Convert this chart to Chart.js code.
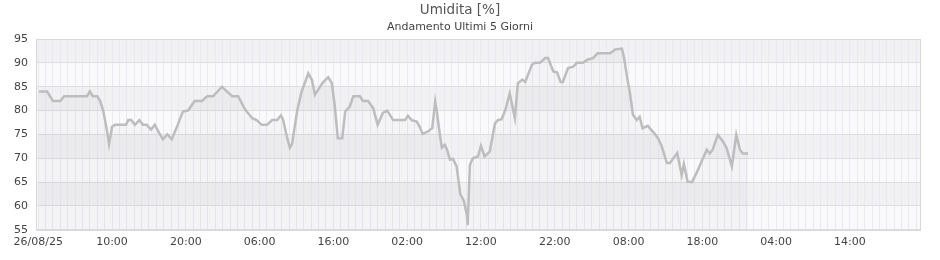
<!DOCTYPE html><html lang="it"><head>
  <meta charset="UTF-8" />
  <title>Umidita [%]</title>
  <script src="https://cdn.jsdelivr.net/npm/chart.js"></script>
  <style>
    * { margin: 0; padding: 0; box-sizing: border-box; }
    body { background: #fff; width: 940px; height: 260px; overflow: hidden; }
    canvas { display: block; }
  </style>
</head>
<body>
  <canvas id="humChart" width="940" height="260"></canvas>
  <script>
    // ore trascorse dall'inizio (26/08/25 00:00) e umidita letta
    const hours = [
      0.1, 1.2, 2.0, 3.0, 3.5, 6.6, 7.0, 7.4, 8.0, 8.4,
      8.8, 9.3, 9.6, 10.0, 10.4, 11.9, 12.2, 12.6, 13.1, 13.7,
      14.2, 14.7, 15.3, 15.8, 16.5, 16.9, 17.5, 18.1, 18.9, 19.6,
      20.3, 21.2, 22.2, 22.9, 23.7, 24.9, 25.3, 26.3, 27.1, 28.0,
      29.0, 29.6, 30.3, 31.0, 31.7, 32.4, 32.9, 33.2, 33.7, 34.1,
      34.4, 35.1, 35.7, 36.6, 37.1, 37.5, 38.5, 38.9, 39.3, 39.8,
      40.2, 40.6, 41.2, 41.6, 42.2, 42.7, 43.6, 44.0, 44.7, 45.4,
      46.0, 46.7, 47.3, 48.1, 49.7, 50.1, 50.6, 51.3, 51.7, 52.1,
      52.8, 53.4, 53.8, 54.0, 54.4, 54.7, 55.1, 55.4, 55.8, 56.2,
      56.7, 57.2, 57.7, 58.1, 58.2, 58.5, 58.9, 59.6, 60.0, 60.5,
      61.2, 61.9, 62.3, 62.8, 63.3, 63.9, 64.6, 65.0, 65.6, 66.0,
      66.9, 67.3, 68.0, 68.7, 69.1, 69.8, 70.3, 70.8, 71.1, 71.8,
      72.5, 73.0, 73.8, 74.5, 75.2, 75.8, 77.5, 78.2, 79.1, 79.4,
      79.8, 80.2, 80.6, 81.1, 81.5, 81.9, 82.6, 83.3, 84.0, 84.5,
      85.2, 85.6, 86.6, 87.0, 87.2, 87.5, 88.0, 88.6, 89.3, 89.9,
      90.6, 91.0, 91.4, 92.1, 92.8, 93.3, 94.0, 94.6, 95.1, 95.5,
      96.2
    ];
    const humidity = [
      84, 84, 82, 82, 83, 83, 84, 83, 83, 82,
      80, 76, 73, 76.6, 77, 77, 78, 78, 77, 78,
      77, 77, 76, 77, 75, 74, 75, 74, 77, 79.8,
      80, 82, 82, 83, 83, 85, 84.4, 83, 83, 80.3,
      78.4, 78, 77, 77, 78, 78, 79, 78, 74.5, 72.2,
      73, 80, 84, 87.8, 86.4, 83.3, 85.7, 86.4, 87, 85.7,
      80.8, 74.2, 74.2, 79.8, 80.8, 83, 83, 82, 82, 80.5,
      77, 79.5, 80, 78, 78, 78.9, 78, 77.7, 76.6, 75.1,
      75.6, 76.3, 81.9, 80.1, 75.3, 72.2, 72.8, 71.8, 69.7, 69.9,
      68.3, 62.5, 61, 58, 56, 68.6, 70, 70.4, 72.6, 70.4,
      71.4, 77.3, 78, 78.2, 80.1, 83.6, 78.4, 85.7, 86.5, 86,
      89.6, 90, 90, 91, 91, 88.2, 88, 86, 86, 88.9,
      89.2, 90, 90, 90.7, 91, 92, 92, 92.8, 93, 91,
      87, 83.6, 79.1, 78, 78.7, 76.3, 76.8, 75.6, 74.2, 72.5,
      69, 69, 71.1, 68, 66.5, 68.8, 65.1, 65, 67.2, 69.3,
      71.8, 71, 71.8, 74.9, 73.5, 72.1, 68.3, 74.9, 71.8, 71,
      71
    ];
    const startLabel = '26/08/25';
    const labelEvery = 10;   // un'etichetta ogni 10 ore
    const yMin = 55, yMax = 95, yStep = 5;

    const points = hours.map((h, i) => ({ x: h, y: humidity[i] }));

    // fasce orizzontali alternate + bordo dell'area
    const bands = {
      id: 'bands',
      beforeDraw(chart) {
        const { ctx, chartArea: a, scales: { y } } = chart;
        ctx.save();
        for (let v = yMin, k = 0; v < yMax; v += yStep, k++) {
          const top = y.getPixelForValue(v + yStep), bot = y.getPixelForValue(v);
          ctx.fillStyle = k % 2 ? '#f1f1f1' : '#fafafa';
          ctx.fillRect(a.left, top, a.right - a.left, bot - top);
        }
        ctx.restore();
      },
      afterDraw(chart) {
        const { ctx, chartArea: a } = chart;
        ctx.save();
        ctx.strokeStyle = '#d9d9d9';
        ctx.lineWidth = 1;
        ctx.strokeRect(Math.round(a.left) + 0.5, Math.round(a.top) + 0.5, Math.round(a.right - a.left), Math.round(a.bottom - a.top));
        ctx.restore();
      }
    };

    new Chart(document.getElementById('humChart').getContext('2d'), {
      type: 'line',
      data: {
        datasets: [{
          data: points,
          borderColor: '#bdbdbd',
          borderWidth: 2.5,
          backgroundColor: 'rgba(0,0,0,0.025)',
          fill: 'start',
          pointRadius: 0,
          tension: 0
        }]
      },
      options: {
        responsive: false,
        animation: false,
        devicePixelRatio: 1,
        layout: { padding: { left: 0, right: 20, top: 0, bottom: 5 } },
        plugins: {
          legend: { display: false },
          tooltip: { enabled: false },
          title: {
            display: true, text: 'Umidita [%]', color: '#555',
            font: { family: 'DejaVu Sans', size: 13.5, weight: 'normal' },
            padding: { top: 2, bottom: 2 }
          },
          subtitle: {
            display: true, text: 'Andamento Ultimi 5 Giorni', color: '#444',
            font: { family: 'DejaVu Sans', size: 11 },
            padding: { top: 0, bottom: 5.6 }
          }
        },
        scales: {
          x: {
            type: 'linear', min: -0.3, max: 119.5,
            grid: { color: '#e8e8f8', drawTicks: false },
            border: { display: false },
            ticks: {
              stepSize: 1, includeBounds: false, autoSkip: false, maxRotation: 0,
              maxTicksLimit: 200, padding: 6, color: '#444',
              font: { family: 'DejaVu Sans', size: 11 },
              callback: v => {
                if (v % labelEvery !== 0 || v >= 120) return '';
                if (v === 0) return startLabel;
                return String(v % 24).padStart(2, '0') + ':00';
              }
            }
          },
          y: {
            min: yMin, max: yMax,
            afterFit: s => { s.width = 36; },
            grid: { color: '#dedede', drawTicks: false },
            border: { display: false },
            ticks: {
              stepSize: yStep, padding: 8, color: '#444',
              font: { family: 'DejaVu Sans', size: 11 }
            }
          }
        }
      },
      plugins: [bands]
    });
  </script>
</body>
</html>
